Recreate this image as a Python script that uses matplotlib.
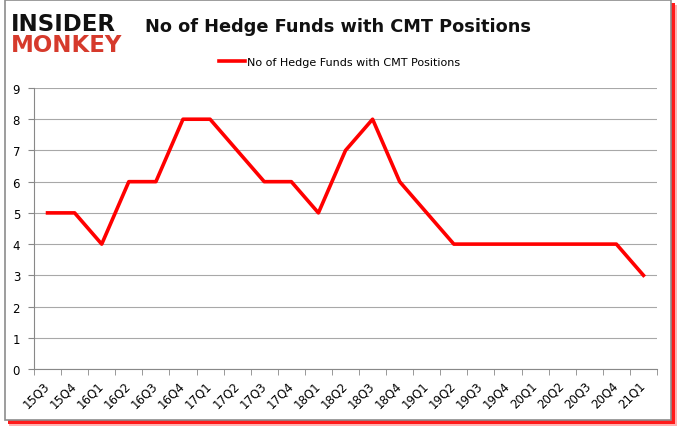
import matplotlib
matplotlib.use("Agg")
import matplotlib.pyplot as plt
from matplotlib.patches import Rectangle

quarters = ["15Q3", "15Q4", "16Q1", "16Q2", "16Q3", "16Q4", "17Q1", "17Q2",
            "17Q3", "17Q4", "18Q1", "18Q2", "18Q3", "18Q4", "19Q1", "19Q2",
            "19Q3", "19Q4", "20Q1", "20Q2", "20Q3", "20Q4", "21Q1"]
funds = [5, 5, 4, 6, 6, 8, 8, 7, 6, 6, 5, 7, 8, 6, 5, 4, 4, 4, 4, 4, 4, 4, 3]

W, H = 678, 431
fig = plt.figure(figsize=(W / 100, H / 100), dpi=100)


def px_rect(x0, y0, x1, y1, **kw):
    # rectangle given in pixel coords, y measured from the top
    return Rectangle((x0 / W, 1 - y1 / H), (x1 - x0) / W, (y1 - y0) / H,
                     transform=fig.transFigure, **kw)


# soft red shadow + gray framed white panel
fig.patches.append(px_rect(9, 6, 677, 427, facecolor="#ffb0b0", edgecolor="none", zorder=-4))
fig.patches.append(px_rect(8, 4, 675, 425, facecolor="#ff1a1a", edgecolor="none", zorder=-3))
fig.patches.append(px_rect(5, 1, 671, 421, facecolor="white", edgecolor="#8c8c8c",
                           linewidth=1.2, zorder=-2))

ax = fig.add_axes([34 / W, 1 - 370 / H, (657 - 34) / W, (370 - 89) / H])
x = list(range(len(quarters)))
ax.plot(x, funds, color="#ff0000", linewidth=2.6, label="No of Hedge Funds with CMT Positions")

ax.set_xlim(-0.5, len(quarters) - 0.5)
ax.set_ylim(0, 9)
ax.set_yticks(range(0, 10))
ax.set_xticks(x)
ax.set_xticklabels(quarters, rotation=45, fontsize=8.5, ha="right", va="center",
                   rotation_mode="anchor")
ax.set_xticks([i - 0.5 for i in range(len(quarters) + 1)], minor=True)
ax.tick_params(axis="x", which="major", length=0, pad=10)
ax.tick_params(axis="x", which="minor", length=4, color="#888888")
ax.tick_params(axis="y", length=4, color="#888888", labelsize=8.5, pad=6)
ax.grid(axis="y", color="#a8a8a8", linewidth=0.8)
ax.set_axisbelow(True)
for s in ["top", "right"]:
    ax.spines[s].set_visible(False)
ax.spines["left"].set_color("#888888")
ax.spines["bottom"].set_color("#888888")

ax.legend(loc="center", bbox_to_anchor=(0.49, 1.094), frameon=False,
          fontsize=8, handlelength=2.4, handletextpad=0.15)

fig.text(0.4985, 0.937, "No of Hedge Funds with CMT Positions", ha="center", va="center",
         fontsize=12.8, fontweight="bold", color="#111111")
fig.text(0.016, 0.944, "INSIDER", ha="left", va="center", fontsize=16.5,
         fontweight="heavy", color="#111111")
fig.text(0.016, 0.894, "MONKEY", ha="left", va="center", fontsize=16.5,
         fontweight="heavy", color="#d63a2c")

fig.savefig("out.png", dpi=100)
